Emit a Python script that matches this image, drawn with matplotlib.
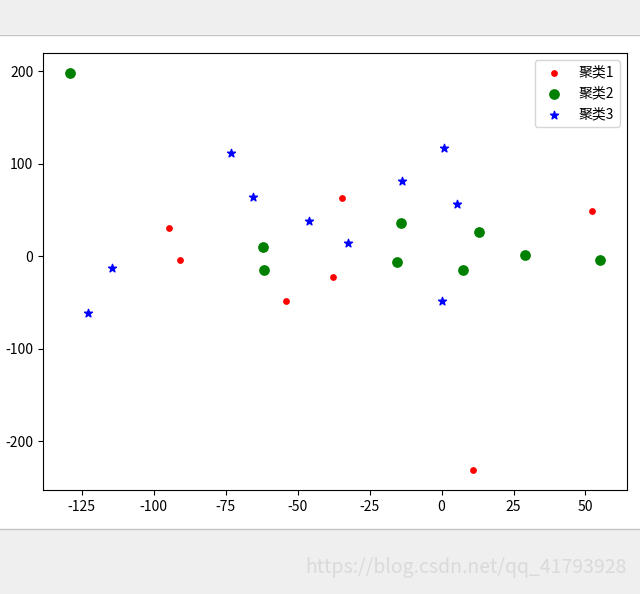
import matplotlib
matplotlib.use('Agg')
import matplotlib.pyplot as plt
from matplotlib.patches import Rectangle

plt.rcParams['font.family'] = ['Noto Sans CJK SC', 'DejaVu Sans']
plt.rcParams['axes.unicode_minus'] = False

# cluster points
x1 = [-94.5, -91.0, -34.7, -53.9, -37.6, 52.4, 11.0]
y1 = [31.2, -3.9, 63.2, -48.0, -22.6, 48.9, -231.0]

x2 = [-129.2, -62.0, -61.8, -14.0, -15.6, 7.4, 13.1, 29.0, 55.2]
y2 = [198.5, 10.1, -15.1, 36.6, -6.1, -15.1, 26.9, 1.5, -3.9]

x3 = [-122.9, -114.4, -73.0, -65.6, -46.2, -32.6, -13.9, 0.7, 5.3, 0.3]
y3 = [-61.0, -12.5, 112.0, 64.6, 38.4, 14.7, 81.8, 117.3, 56.7, -48.0]

labels = ['聚类1', '聚类2', '聚类3']

fig = plt.figure(figsize=(6.4, 5.94), dpi=100)

# screenshot bands above and below the chart
fig.patches.append(Rectangle((0, 1 - 34 / 594), 1, 34 / 594, transform=fig.transFigure,
                             facecolor='#f0eff0', edgecolor='none', zorder=0))
fig.patches.append(Rectangle((0, 0), 1, 65 / 594, transform=fig.transFigure,
                             facecolor='#f0eff0', edgecolor='none', zorder=0))
fig.lines.append(plt.Line2D([0, 1], [1 - 34.5 / 594] * 2, transform=fig.transFigure,
                            color='#c4c4c4', lw=1))
fig.lines.append(plt.Line2D([0, 1], [65 / 594] * 2, transform=fig.transFigure,
                            color='#c4c4c4', lw=1))

ax = fig.add_axes([43 / 640, 1 - 490 / 594, 584 / 640, 437 / 594])
ax.scatter(x1, y1, c='red', marker='o', s=15, label=labels[0])
ax.scatter(x2, y2, c='green', marker='o', s=45, label=labels[1])
ax.scatter(x3, y3, c='blue', marker='*', s=36, label=labels[2])
ax.legend(loc='upper right', fontsize=10)

fig.text(627 / 640, 1 - 568 / 594, 'https://blog.csdn.net/qq_41793928', ha='right', va='center',
         fontsize=14, color='#dadada')

fig.savefig('out.png', dpi=100)
